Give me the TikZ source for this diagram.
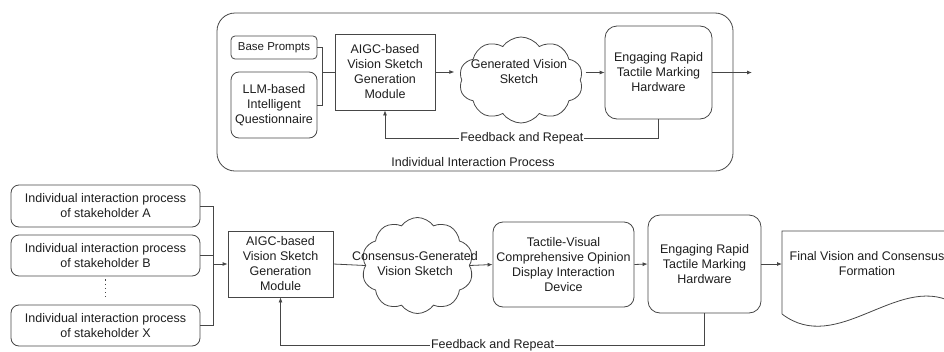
\documentclass[tikz,border=0pt]{standalone}
\usepackage{fontspec}
\setmainfont{Liberation Sans}
\usepackage{tikz}
\usetikzlibrary{positioning, shapes.symbols, calc, arrows.meta}
\definecolor{pdLine}{RGB}{70, 70, 70}
\definecolor{pdText}{RGB}{30, 30, 30}
\tikzset{
    base/.style={
        font=\fontsize{12.5}{15}\selectfont,
        align=center,
        text=pdText
    },
    module/.style={
        base,
        rectangle,
        draw=pdLine,
        line width=0.8pt,
        inner sep=1pt
    },
    rbox/.style={
        module,
        rounded corners=8pt
    },
    vision/.style={
        cloud,
        cloud puffs=10,
        cloud puff arc=110,
        draw=pdLine,
        line width=0.8pt,
        inner sep=0pt
    },
    flow/.style={
        -{Latex[length=5pt, width=4pt]},
        line width=0.8pt,
        color=pdLine
    },
    link/.style={
        line width=0.8pt,
        color=pdLine
    },
    note/.style={
        base,
        fill=white,
        inner sep=1pt
    }
}

\begin{document}
\begin{tikzpicture}[x=1pt, y=-1pt]
  \useasboundingbox (0,0) rectangle (944,351);

  % Individual process frame
  \node[rbox, rounded corners=18pt, minimum width=516pt, minimum height=158pt] (proc) at (475,92) {};
  \node[base] (proccap) at (473,162) {Individual Interaction Process};

  % Inputs
  \node[rbox, rounded corners=4pt, minimum width=86pt, minimum height=23pt, font=\fontsize{11.5}{14}\selectfont] (base) at (274,47.5) {Base Prompts};
  \node[rbox, minimum width=86pt, minimum height=66pt] (llm) at (274,105) {LLM-based\\Intelligent\\Questionnaire};

  % Generation chain
  \node[module, minimum width=100pt, minimum height=76pt] (aigc) at (385,72) {AIGC-based\\Vision Sketch\\Generation\\Module};
  \node[vision, minimum width=124pt, minimum height=86pt] (gen) at (521,80) {};
  \node[base] (gentext) at (519,72) {Generated Vision\\Sketch};
  \node[rbox, rounded corners=12pt, minimum width=107pt, minimum height=93pt] (eng) at (658.5,72.5) {Engaging Rapid\\Tactile Marking\\Hardware};
  \coordinate (out) at (752,72.5);

  \draw[link] (base.east) -| ($(base.east)+(5,0)$) |- (llm.east);
  \draw[link] ($(base.east)+(5,0)$) |- (aigc.west);
  \draw[flow, shorten >=7pt] (aigc.east) -- (aigc.east -| gen.west);
  \draw[flow, shorten <=5pt] (gen.east |- eng.west) -- (eng.west);
  \draw[flow] (eng.east) -- (out);
  \draw[flow] (eng.south) -- ++(0,19) -| node[note, pos=0.25] {Feedback and Repeat} (aigc.south);

  % Stakeholders
  \node[rbox, minimum width=189pt, minimum height=42pt] (sa) at (105.5,206) {Individual interaction process\\of stakeholder A};
  \node[rbox, minimum width=189pt, minimum height=41pt] (sb) at (105.5,255.5) {Individual interaction process\\of stakeholder B};
  \node[rbox, minimum width=189pt, minimum height=41pt] (sx) at (105.5,325.5) {Individual interaction process\\of stakeholder X};
  \draw[link, dash pattern=on 1.2pt off 3pt, shorten <=3pt, shorten >=6pt] (sb.south) -- (sx.north);

  % Consensus chain
  \node[module, minimum width=105pt, minimum height=66pt] (aigc2) at (280.5,264) {AIGC-based\\Vision Sketch\\Generation\\Module};
  \node[vision, minimum width=112pt, minimum height=96pt] (cons) at (417.5,265.5) {};
  \node[base] (constext) at (415,264) {Consensus-Generated\\Vision Sketch};
  \node[rbox, rounded corners=10pt, minimum width=141pt, minimum height=85pt] (tac) at (563.5,264.5) {Tactile-Visual\\Comprehensive Opinion\\Display Interaction\\Device};
  \node[rbox, rounded corners=12pt, minimum width=113pt, minimum height=98pt] (eng2) at (704.5,264) {Engaging Rapid\\Tactile Marking\\Hardware};
  \node[base] (fin) at (867,264) {Final Vision and Consensus\\Formation};
  \draw[link] ([shift={(-85,50)}]fin.center) -- ([shift={(-85,-33)}]fin.center)
    -- ([shift={(85,-33)}]fin.center) -- ([shift={(85,38)}]fin.center)
    .. controls ([shift={(30,10)}]fin.center) and ([shift={(-30,92)}]fin.center) .. ([shift={(-85,50)}]fin.center);

  \coordinate (jn) at (213,264);
  \draw[link] (sa.east) -| (jn);
  \draw[link] (sx.east) -| (jn);
  \draw[link] (sb.east) -- (sb.east -| jn);
  \draw[flow] (jn) -- (aigc2.west);
  \draw[link] (aigc2.east) -- (cons.west);
  \draw[flow] (cons.east) -- (tac.west);
  \draw[flow] (tac.east) -- (eng2.west);
  \draw[flow] (eng2.east) -- (fin.west -| 782,0);
  \draw[flow] (eng2.south) -- ++(0,32) -| node[note, pos=0.25] {Feedback and Repeat} (aigc2.south);
\end{tikzpicture}
\end{document}
